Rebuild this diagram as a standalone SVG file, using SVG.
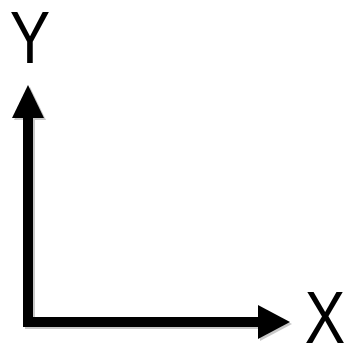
<svg xmlns="http://www.w3.org/2000/svg" width="345" height="346" viewBox="0 0 345 346">
<style>
.lbl{font-family:"Liberation Sans",Arial,sans-serif;font-size:74px;fill:#000}
.ax{fill:none;stroke:#000;stroke-width:10;stroke-linejoin:miter;stroke-linecap:butt}
.sh{fill:none;stroke:#c8c8c8;stroke-width:10;stroke-linejoin:miter}
</style>
<rect width="345" height="346" fill="#fff"/>
<g id="connectors">
<g id="shadow" transform="translate(2,2)">
<path class="sh" d="M28,116 L28,322 L260,322"/>
<polygon points="28,85 44,118 12,118" fill="#c8c8c8"/>
<polygon points="290,322 258,305 258,339" fill="#c8c8c8"/>
</g>
<path class="ax" d="M28,116 L28,322 L260,322"/>
<polygon points="28,85 44,118 12,118" fill="#000"/>
<polygon points="290,322 258,305 258,339" fill="#000"/>
</g>
<g id="label-y" transform="translate(30,0) scale(0.82,1)"><text class="lbl" x="0" y="63" text-anchor="middle">Y</text></g>
<g id="label-x" transform="translate(325,0) scale(0.82,1)"><text class="lbl" x="0" y="343" text-anchor="middle">X</text></g>
</svg>
